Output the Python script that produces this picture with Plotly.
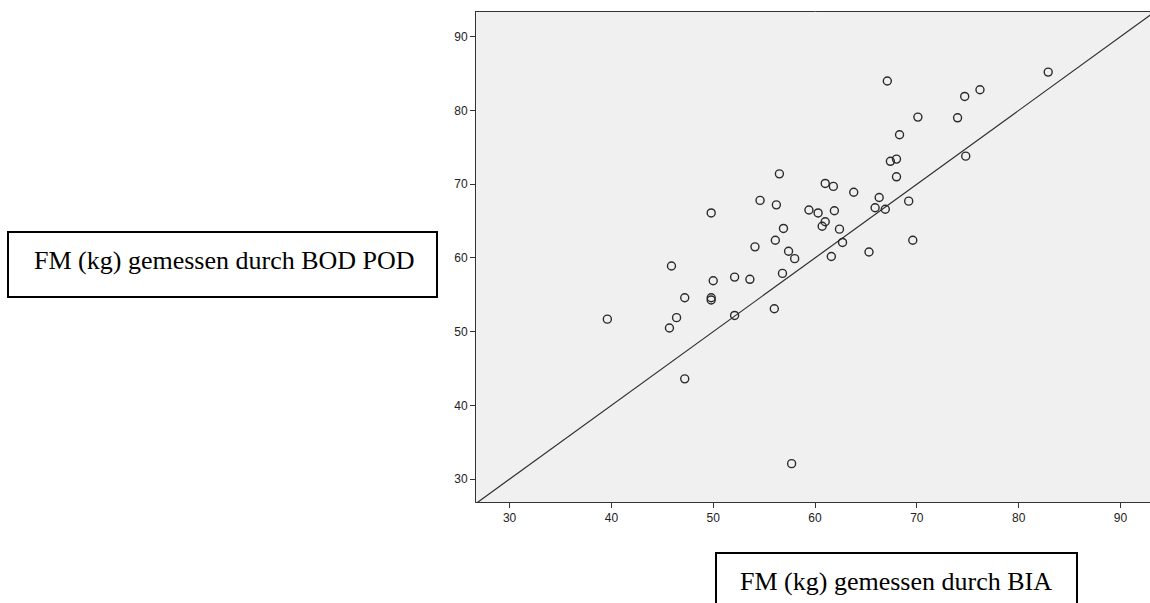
import plotly.graph_objects as go

# FM (kg) gemessen durch BIA (x) vs. BOD POD (y)
bia = [56.5, 54.6, 56.2, 49.8, 56.9, 56.1, 54.1, 57.4, 58.0, 45.9,
       56.8, 50.0, 52.1, 53.6, 47.2, 49.8, 49.8, 56.0, 46.4, 52.1,
       39.6, 45.7, 47.2, 57.7, 67.1, 82.9, 76.2, 74.7, 70.1, 74.0,
       68.3, 68.0, 67.4, 74.8, 68.0, 61.0, 61.8, 63.8, 66.3, 59.4,
       60.3, 61.9, 65.9, 66.9, 69.2, 61.0, 60.7, 62.4, 62.7, 61.6,
       65.3, 69.6]
bodpod = [71.4, 67.8, 67.2, 66.1, 64.0, 62.4, 61.5, 60.9, 59.9, 58.9,
          57.9, 56.9, 57.4, 57.1, 54.6, 54.6, 54.3, 53.1, 51.9, 52.2,
          51.7, 50.5, 43.6, 32.1, 84.0, 85.2, 82.8, 81.9, 79.1, 79.0,
          76.7, 73.4, 73.1, 73.8, 71.0, 70.1, 69.7, 68.9, 68.2, 66.5,
          66.1, 66.4, 66.8, 66.6, 67.7, 64.9, 64.3, 63.9, 62.1, 60.2,
          60.8, 62.4]

tick_vals = [30, 40, 50, 60, 70, 80, 90]
tick_text = ["30", "40", "50", "60", "70", "80", "90"]
x_range = [26.7, 92.9]
y_range = [26.9, 93.35]

y_label = "FM (kg) gemessen durch BOD POD"
x_label = "FM (kg) gemessen durch BIA"

W, H = 1150, 603
L, R, T, B = 476, 0, 12, 101
PW, PH = W - L - R, H - T - B


def px(xp):
    return (xp - L) / PW


def py(yp):
    return (H - B - yp) / PH


fig = go.Figure()

# reference line y = x across the whole plot
lo = min(x_range[0], y_range[0]) - 5
hi = max(x_range[1], y_range[1]) + 5
fig.add_trace(go.Scatter(x=[lo, hi], y=[lo, hi], mode="lines",
                         line=dict(color="#2e2e2e", width=1.2),
                         hoverinfo="skip", showlegend=False))

fig.add_trace(go.Scatter(x=bia, y=bodpod, mode="markers",
                         marker=dict(symbol="circle-open", size=8,
                                     color="#2a2a2a",
                                     line=dict(width=1.4, color="#2a2a2a")),
                         showlegend=False))

axis_common = dict(tickmode="array", tickvals=tick_vals, ticktext=tick_text,
                   ticks="outside", ticklen=5, tickwidth=1, tickcolor="#333",
                   showline=True, linecolor="#333", linewidth=1,
                   showgrid=False, zeroline=False,
                   tickfont=dict(family="Liberation Sans, Arial", size=12, color="#222"))

fig.update_xaxes(range=x_range, mirror=True, **axis_common)
fig.update_yaxes(range=y_range, mirror=False, **axis_common)

# label boxes
fig.add_shape(type="rect", xref="paper", yref="paper",
              x0=px(8), x1=px(437), y0=py(297), y1=py(232),
              line=dict(color="black", width=2), fillcolor="rgba(0,0,0,0)")
fig.add_shape(type="rect", xref="paper", yref="paper",
              x0=px(716), x1=px(1077), y0=py(620), y1=py(553),
              line=dict(color="black", width=2), fillcolor="rgba(0,0,0,0)")

fig.add_annotation(text=y_label, xref="paper", yref="paper",
                   x=px(224), y=py(260), showarrow=False,
                   xanchor="center", yanchor="middle",
                   font=dict(family="Liberation Serif, Times New Roman", size=26, color="black"))
fig.add_annotation(text=x_label, xref="paper", yref="paper",
                   x=px(896), y=py(581), showarrow=False,
                   xanchor="center", yanchor="middle",
                   font=dict(family="Liberation Serif, Times New Roman", size=26, color="black"))
fig.add_annotation(text="-", xref="paper", yref="paper",
                   x=px(815), y=py(5), showarrow=False,
                   font=dict(family="Liberation Sans", size=7, color="#777"))

fig.update_layout(width=W, height=H,
                  margin=dict(l=L, r=R, t=T, b=B, pad=0),
                  plot_bgcolor="#f0f0f0", paper_bgcolor="white",
                  showlegend=False)

fig.write_html("out.html")
